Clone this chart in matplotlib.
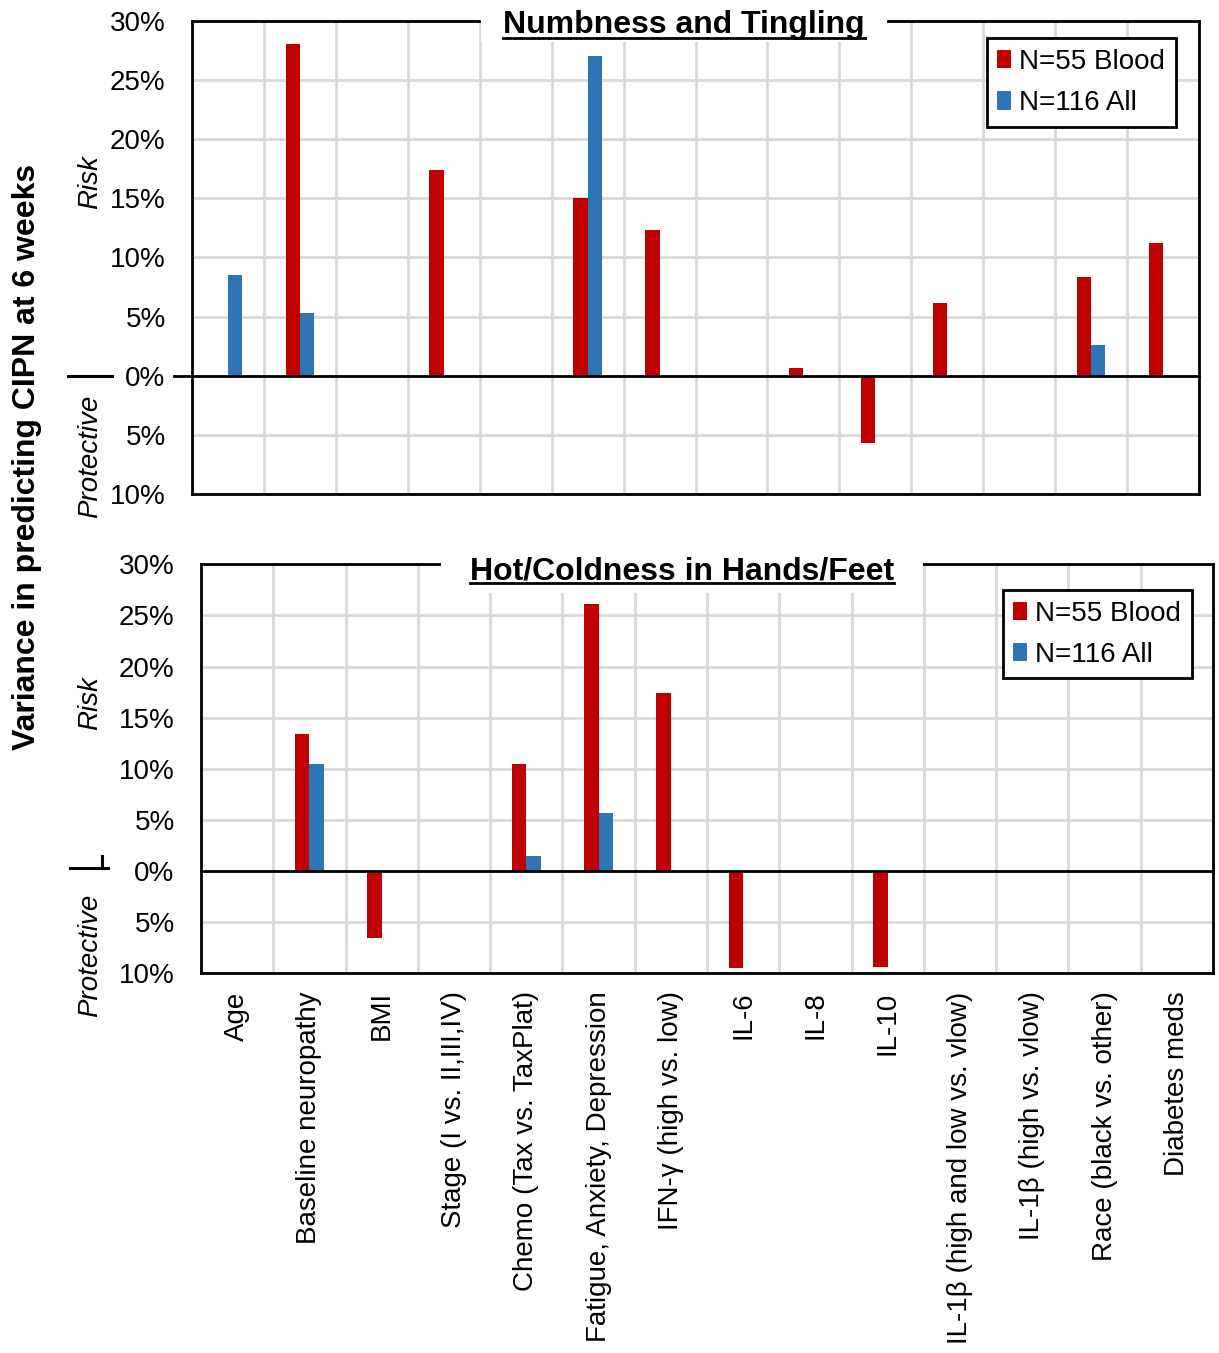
import numpy as np
import matplotlib
matplotlib.use("Agg")
import matplotlib.pyplot as plt
from matplotlib.lines import Line2D
from matplotlib.patches import Rectangle

plt.rcParams['font.family'] = ['Liberation Sans', 'DejaVu Sans']

# predictors (x axis)
categories = ["Age", "Baseline neuropathy", "BMI", "Stage (I vs. II,III,IV)",
              "Chemo (Tax vs. TaxPlat)", "Fatigue, Anxiety, Depression",
              "IFN-γ (high vs. low)", "IL-6", "IL-8", "IL-10",
              "IL-1β (high and low vs. vlow)", "IL-1β (high vs. vlow)",
              "Race (black vs. other)", "Diabetes meds"]
nan = np.nan

# variance explained (%), negative = protective
numb_blood = [nan, 28.0, nan, 17.4, nan, 15.0, 12.3, nan, 0.65, -5.7, 6.1, nan, 8.3, 11.2]
numb_all = [8.5, 5.3, nan, nan, nan, 27.0, nan, nan, nan, nan, nan, nan, 2.6, nan]
hot_blood = [nan, 13.4, -6.5, nan, 10.5, 26.1, 17.4, -9.45, nan, -9.4, nan, nan, nan, nan]
hot_all = [nan, 10.5, nan, nan, 1.45, 5.7, nan, nan, nan, nan, nan, nan, nan, nan]

y_ticks = [-10, -5, 0, 5, 10, 15, 20, 25, 30]

RED = "#C00000"
BLUE = "#2E75B6"
GRID = "#D9D9D9"
W, H = 1219, 1353

fig = plt.figure(figsize=(W / 100, H / 100), dpi=100)


def px(x, y):
    # pixel position (from top left) -> figure fraction
    return x / W, 1 - y / H


def make_axes(left, top, right, bottom):
    x0, y1 = px(left, top)
    x1, y0 = px(right, bottom)
    return fig.add_axes([x0, y0, x1 - x0, y1 - y0])


ax1 = make_axes(192, 20.7, 1199, 494)
ax2 = make_axes(201, 564.3, 1213, 973.3)

x = np.arange(len(categories))
bw = 0.2


def draw_panel(ax, blood, allp, title, title_xy, gap, legend_anchor, extend_zero):
    b1 = ax.bar(x - bw / 2, np.array(blood, dtype=float), width=bw, color=RED,
                label="N=55 Blood", zorder=2)
    b2 = ax.bar(x + bw / 2, np.array(allp, dtype=float), width=bw, color=BLUE,
                label="N=116 All", zorder=2)
    ax.set_xlim(-0.5, len(categories) - 0.5)
    ax.set_ylim(-10, 30)
    ax.set_yticks(y_ticks)
    ax.set_yticklabels([f"{abs(v)}%" for v in y_ticks])
    ax.set_xticks(x)
    ax.set_xticks(x[:-1] + 0.5, minor=True)
    ax.tick_params(axis='both', which='both', length=0)
    ax.tick_params(axis='y', labelsize=20, pad=19)
    ax.grid(True, which='minor', axis='x', color=GRID, lw=2, zorder=0)
    ax.grid(True, which='major', axis='y', color=GRID, lw=2, zorder=0)
    ax.grid(False, which='major', axis='x')
    ax.set_axisbelow(True)
    for s in ax.spines.values():
        s.set_linewidth(2)
        s.set_color("black")
    x0 = -0.018 if extend_zero else 0
    ax.plot([x0, 1], [0, 0], color="black", lw=2, transform=ax.get_yaxis_transform(),
            clip_on=False, zorder=3)

    # white gap in frame behind the title
    ax.add_patch(Rectangle((gap[0], gap[2]), gap[1] - gap[0], 1.05 - gap[2],
                           transform=ax.transAxes, facecolor="white", edgecolor="none",
                           clip_on=False, zorder=3))
    fx, fy = px(*title_xy)
    t = fig.text(fx, fy, title, fontsize=23, fontweight='bold', ha='center',
                 va='baseline', zorder=5)

    leg = ax.legend(handles=[b1, b2], loc='upper right', bbox_to_anchor=legend_anchor,
                    borderaxespad=0, fontsize=20, frameon=True, fancybox=False,
                    framealpha=1, edgecolor="black", handlelength=0.5,
                    handleheight=0.65, handletextpad=0.3, borderpad=0.38,
                    labelspacing=0.55)
    leg.get_frame().set_linewidth(2)
    leg.set_zorder(6)
    return t


t1 = draw_panel(ax1, numb_blood, numb_all, "Numbness and Tingling", (684, 33),
                (0.287, 0.690, 0.955), (0.977, 0.963), True)
t2 = draw_panel(ax2, hot_blood, hot_all, "Hot/Coldness in Hands/Feet", (682, 579),
                (0.237, 0.713, 0.930), (0.979, 0.937), False)

ax1.set_xticklabels([])
ax2.set_xticklabels(categories, rotation=90, fontsize=20, va='top', ha='center')
ax2.tick_params(axis='x', pad=13)

# underline the titles
fig.canvas.draw()
inv = fig.transFigure.inverted()
for t, uy in [(t1, 37.5), (t2, 582.7)]:
    bb = t.get_window_extent(fig.canvas.get_renderer()).transformed(inv)
    yy = 1 - uy / H
    fig.add_artist(Line2D([bb.x0, bb.x1], [yy, yy], color="black", lw=2,
                          transform=fig.transFigure))

# side labels
fig.text(*px(90, 182), "Risk", rotation=90, fontsize=20, style='italic',
         ha='center', va='center')
fig.text(*px(90, 456), "Protective", rotation=90, fontsize=20, style='italic',
         ha='center', va='center')
fig.text(*px(90, 703), "Risk", rotation=90, fontsize=20, style='italic',
         ha='center', va='center')
fig.text(*px(90, 955), "Protective", rotation=90, fontsize=20, style='italic',
         ha='center', va='center')
fig.text(*px(27, 457), "Variance in predicting CIPN at 6 weeks", rotation=90,
         fontsize=23, fontweight='bold', ha='center', va='center')

# small separator marks between Risk and Protective
fig.add_artist(Line2D([68 / W, 112 / W], [1 - 376 / H, 1 - 376 / H], color="black", lw=2.2))
fig.add_artist(Line2D([70 / W, 108 / W], [1 - 868 / H, 1 - 868 / H], color="black", lw=2.2))
fig.add_artist(Line2D([102 / W, 102 / W], [1 - 856 / H, 1 - 868 / H], color="black", lw=2.2))

plt.savefig('out.png', dpi=100)
